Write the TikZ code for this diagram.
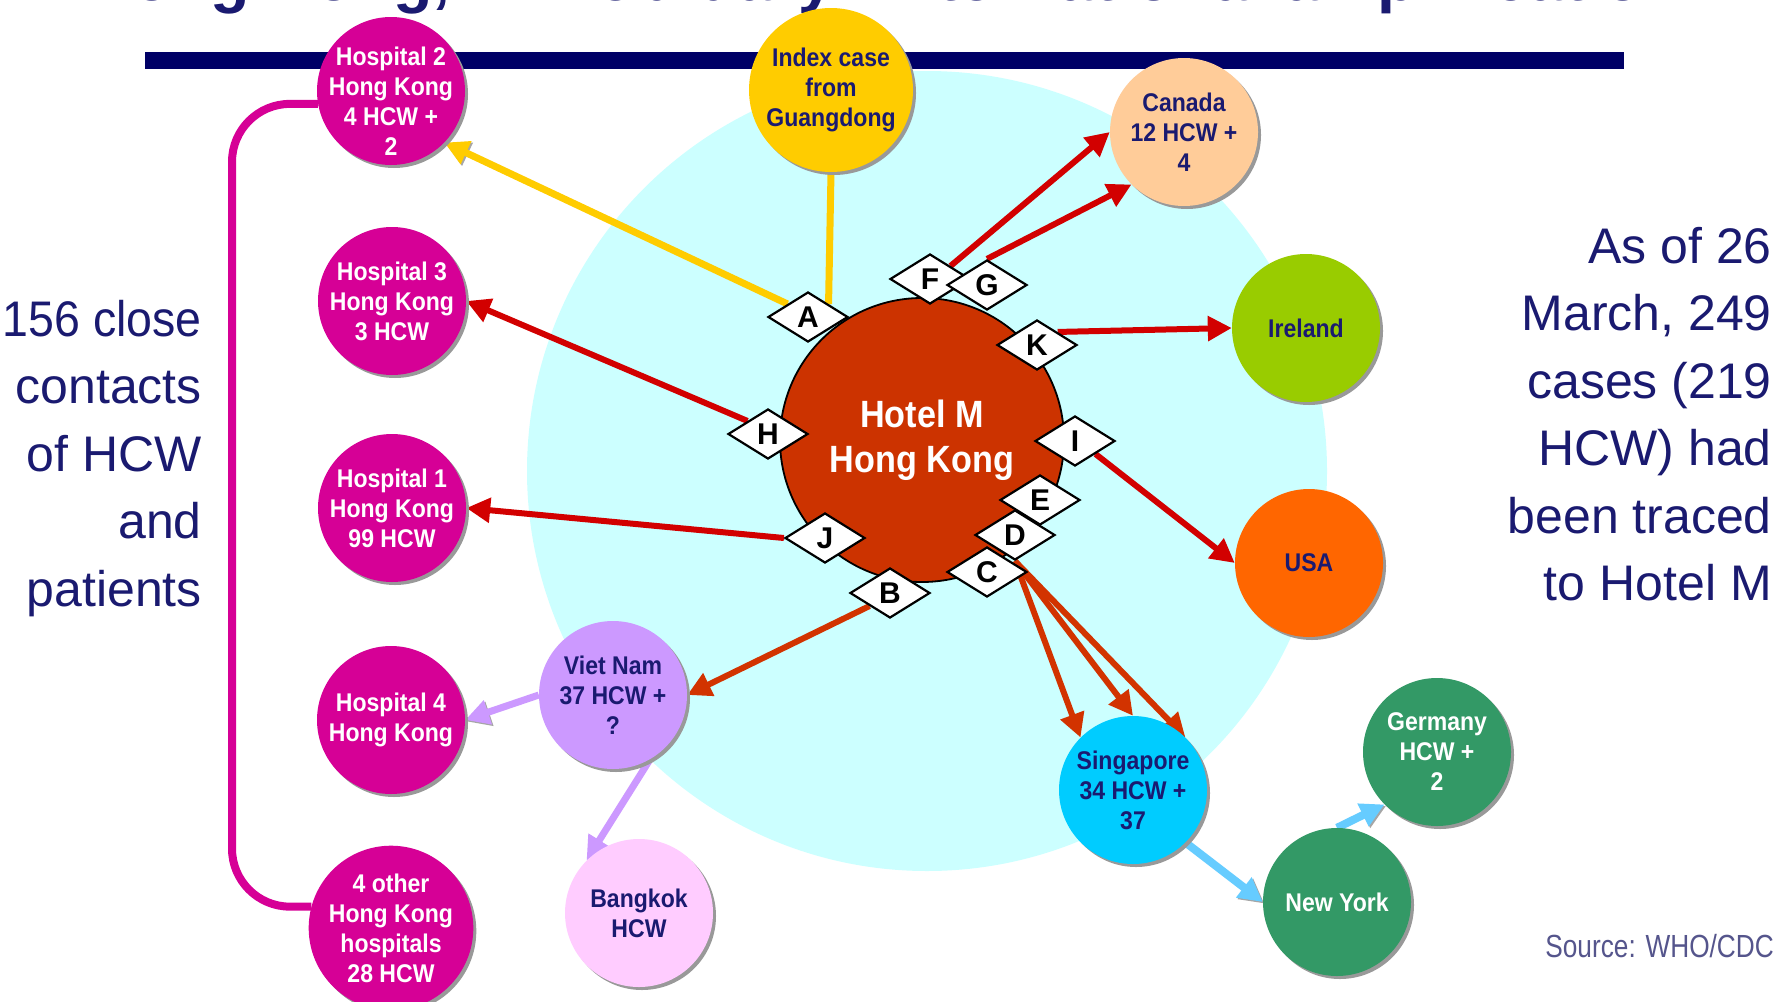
\documentclass[tikz,border=0pt]{standalone}
\usepackage{fontspec}
\setmainfont{Liberation Sans}
\newfontfamily\narrowsans[FakeStretch=0.9]{Liberation Sans}
\newfontfamily\bigcond[FakeStretch=0.93]{Liberation Sans}
\newfontfamily\srcfont[FakeStretch=0.82]{Liberation Sans}
\usetikzlibrary{shapes.geometric,arrows.meta,shadows}
\definecolor{navybar}{RGB}{0,0,102}
\definecolor{navytext}{RGB}{26,26,112}
\definecolor{cyanbg}{RGB}{204,255,255}
\definecolor{hospmag}{RGB}{214,0,150}
\definecolor{idxyellow}{RGB}{255,204,0}
\definecolor{canpeach}{RGB}{255,204,153}
\definecolor{iregreen}{RGB}{153,204,0}
\definecolor{usaorange}{RGB}{255,102,0}
\definecolor{vnlav}{RGB}{204,153,255}
\definecolor{bkkpink}{RGB}{255,204,255}
\definecolor{singblue}{RGB}{0,204,255}
\definecolor{dkgreen}{RGB}{51,153,102}
\definecolor{hotelred}{RGB}{204,51,0}
\definecolor{arrred}{RGB}{210,0,0}
\definecolor{arrorange}{RGB}{210,51,0}
\definecolor{arrblue}{RGB}{102,204,255}
\definecolor{srcgray}{RGB}{85,85,140}
\pgfdeclarelayer{back}
\pgfdeclarelayer{links}
\pgfsetlayers{back,links,main}
\tikzset{
  labelfont/.style={font=\narrowsans\bfseries\fontsize{25.6}{30}\selectfont},
  place/.style={circle, inner sep=0pt, minimum size=148pt, align=center, labelfont,
    drop shadow={shadow xshift=3pt, shadow yshift=-3pt, fill=black!40, opacity=1}},
  lettertag/.style={diamond, draw=black, line width=2.2pt, fill=white,
    minimum width=80pt, minimum height=50pt, inner sep=0pt,
    font=\bfseries\fontsize{30}{30}\selectfont},
  link/.style={line cap=butt,
    preaction={draw=black!35, transform canvas={xshift=1.5pt,yshift=-1.5pt}}},
  tip/.style={-{Triangle[length=24pt,width=24pt]}},
  redarrow/.style={link, tip, draw=arrred, line width=6pt},
  orangearrow/.style={link, tip, draw=arrorange, line width=6pt},
  yellowarrow/.style={link, tip, draw=idxyellow, line width=7pt},
  yellowline/.style={link, draw=idxyellow, line width=7pt},
  lavarrow/.style={link, tip, draw=vnlav, line width=7pt},
  bluearrow/.style={link, tip, draw=arrblue, line width=8pt},
  bracket/.style={link, draw=hospmag, line width=8pt, rounded corners=58pt},
  bigtext/.style={anchor=base east, inner sep=0pt, text=navytext,
    font=\fontsize{50}{67.5}\selectfont}
}
\begin{document}
\begin{tikzpicture}[x=1pt,y=-1pt]
\useasboundingbox (0,0) rectangle (1776,1001);
\begin{pgfonlayer}{back}
  \fill[white] (0,0) rectangle (1776,1001);
  \fill[cyanbg] (927,471) circle[radius=400];
\end{pgfonlayer}

% title (cut by the top edge, as in the source slide) and rule
\node[anchor=base, inner sep=0pt, text=navytext,
  font=\bfseries\fontsize{64.5}{70}\selectfont] (title) at (884,0.5)
  {Hong Kong, 21 February: international amplification};
\fill[navybar] (145,52) rectangle (1624,69);

% side texts
\node[bigtext] (lefttext) at (202,336)
  {\begin{tabular}[t]{@{}r@{}}{\bigcond 156 close}\\contacts\\of HCW\\and\\patients\end{tabular}};
\node[bigtext] (righttext) at (1772,263)
  {\begin{tabular}[t]{@{}r@{}}As of 26\\March, 249\\cases (219\\HCW) had\\been traced\\to Hotel M\end{tabular}};
\node[anchor=base east, inner sep=0pt, text=srcgray,
  font=\srcfont\fontsize{32}{36}\selectfont] (src) at (1774,957) {Source: WHO/CDC};

% places
\node[place, fill=hospmag] (h2) at (391,91) {};
\node[align=center, inner sep=0pt, text=white, labelfont] (h2label) at (391,101) {Hospital 2\\Hong Kong\\4 HCW +\\2};
\node[place, fill=idxyellow, text=navytext, minimum size=164pt] (idx) at (831,90) {Index case\\from\\Guangdong};
\node[place, fill=canpeach, text=navytext] (can) at (1184,132) {Canada\\12 HCW +\\4};
\node[place, fill=iregreen, text=navytext] (ire) at (1306,328) {Ireland};
\node[place, fill=usaorange, text=navytext] (usa) at (1309,563) {USA};
\node[place, fill=hospmag, text=white] (h3) at (392,301) {Hospital 3\\Hong Kong\\3 HCW};
\node[place, fill=hospmag, text=white] (h1) at (392,508) {Hospital 1\\Hong Kong\\99 HCW};
\node[place, fill=hospmag, text=white] (h4) at (391,720) {Hospital 4\\Hong Kong};
\node[place, fill=hospmag, text=white] (oth) at (391,928) {4 other\\Hong Kong\\hospitals\\28 HCW};
\node[place, fill=vnlav, text=navytext] (vn) at (613,695) {Viet Nam\\37 HCW +\\?};
\node[place, fill=bkkpink, text=navytext] (bkk) at (639,913) {Bangkok\\HCW};
\node[place, fill=singblue, text=navytext] (sing) at (1133,790) {Singapore\\34 HCW +\\37};
\node[place, fill=dkgreen, text=white] (ny) at (1337,902) {New York};
\node[place, fill=dkgreen, text=white] (ger) at (1437,752) {Germany\\HCW +\\2};

% hotel
\node[circle, draw=black, line width=1.8pt, fill=hotelred, minimum size=284pt,
  inner sep=0pt, text=white, align=center,
  font=\narrowsans\bfseries\fontsize{38}{45}\selectfont] (hotel) at (922,440) {Hotel M\\Hong Kong};

% letter tags
\node[lettertag] (A) at (808,317) {A};
\node[lettertag] (F) at (930,279) {F};
\node[lettertag] (G) at (987,285) {G};
\node[lettertag] (K) at (1037,345) {K};
\node[lettertag] (H) at (768,434) {H};
\node[lettertag] (I) at (1075,441) {I};
\node[lettertag] (E) at (1040,500) {E};
\node[lettertag] (D) at (1015,535) {D};
\node[lettertag] (C) at (987,572) {C};
\node[lettertag] (J) at (825,538) {J};
\node[lettertag] (B) at (890,593) {B};

% connectors
\begin{pgfonlayer}{links}
  \coordinate (bx) at (232,0);
  \draw[bracket] (h2.190) -- (h2.190 -| bx) -- (oth.165 -| bx) -- (oth.165);
  \draw[yellowline] (idx.south) -- (A.north east);
  \draw[yellowarrow] (A.north west) -- (h2.-44);
  \draw[redarrow] (F.north east) -- (can.west);
  \draw[redarrow] (G.north) -- (can.225);
  \draw[redarrow] (K.north east) -- (ire.west);
  \draw[redarrow] (I.south east) -- (usa.west);
  \draw[redarrow] (H.north west) -- (h3.east);
  \draw[redarrow] (J.west) -- (h1.east);
  \draw[orangearrow] (B.south west) -- (vn.east);
  \draw[orangearrow] (D.south) -- (sing.135);
  \draw[orangearrow] (D.south) -- (sing.north);
  \draw[orangearrow] (D.south) -- (sing.45);
  \draw[lavarrow] (vn.west) -- (h4.east);
  \draw[lavarrow] (vn.-60) -- (bkk.135);
  \draw[bluearrow] (sing.-45) -- (ny.west);
  \draw[bluearrow] (ny.north) -- (ger.225);
\end{pgfonlayer}
\end{tikzpicture}
\end{document}
